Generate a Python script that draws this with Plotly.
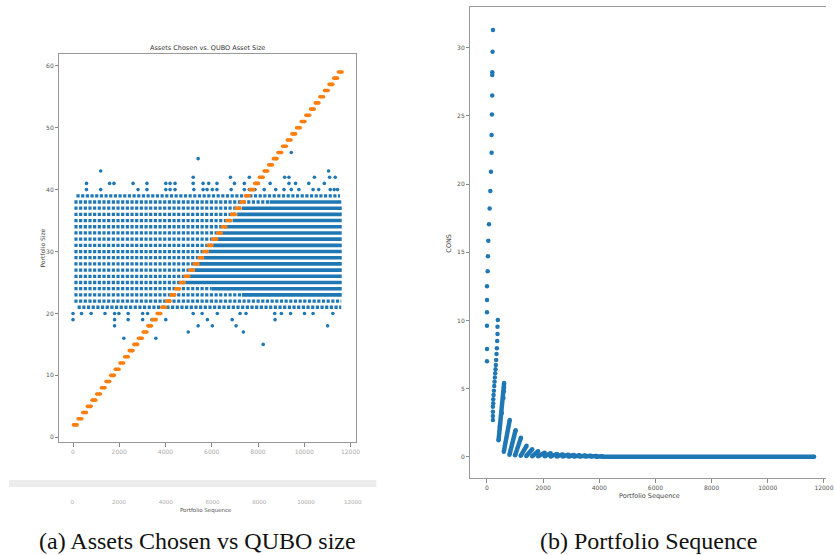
import plotly.graph_objects as go

W, H = 834, 555
BLUE = '#1f77b4'
ORANGE = '#ff7f0e'

def fx(p):
    return p / W

def fy(p):
    return 1 - p / H

# ---------------- (a) Assets Chosen vs. QUBO Asset Size ----------------
x_ticks_a = [0, 2000, 4000, 6000, 8000, 10000, 12000]
y_ticks_a = [0, 10, 20, 30, 40, 50, 60]

qubo_size = [2, 3, 4, 5, 6, 7, 8, 9, 10, 11, 12, 13, 14, 15, 16, 17, 18, 19, 20,
             21, 22, 23, 24, 25, 26, 27, 28, 29, 30, 31, 32, 33, 34, 35, 36, 37,
             38, 39, 40, 41, 42, 43, 44, 45, 46, 47, 48, 49, 50, 51, 52, 53, 54,
             55, 56, 57, 58, 59]
qubo_x_start = [20, 221, 422, 623, 824, 1025, 1226, 1427, 1628, 1829, 2030, 2231,
                2432, 2633, 2834, 3035, 3236, 3437, 3638, 3839, 4040, 4241, 4442,
                4643, 4844, 5045, 5246, 5447, 5648, 5849, 6050, 6251, 6452, 6653,
                6854, 7055, 7256, 7457, 7658, 7859, 8060, 8261, 8462, 8663, 8864,
                9065, 9266, 9467, 9668, 9869, 10070, 10271, 10472, 10673, 10874,
                11075, 11276, 11477]
qubo_x_end = [180, 381, 582, 783, 984, 1185, 1386, 1587, 1788, 1989, 2190, 2391,
              2592, 2793, 2994, 3195, 3396, 3597, 3798, 3999, 4200, 4401, 4602,
              4803, 5004, 5205, 5406, 5607, 5808, 6009, 6210, 6411, 6612, 6813,
              7014, 7215, 7416, 7617, 7818, 8019, 8220, 8421, 8622, 8823, 9024,
              9225, 9426, 9627, 9828, 10029, 10230, 10431, 10632, 10833, 11034,
              11235, 11436, 11637]

# rows of portfolio sizes that are present in (almost) every QUBO group
row_size = [21, 22, 23, 24, 25, 26, 27, 28, 29, 30, 31, 32, 33, 34, 35, 36, 37, 38, 39]
row_first_x = [200, 60, 60, 60, 60, 60, 60, 60, 60, 60, 60, 60, 60, 60, 60, 60, 60, 60, 150]
row_dense_from_x = [11600, 11600, 7300, 6000, 4850, 5050, 5250, 5450, 5650, 5850,
                    6050, 6250, 6450, 6650, 6900, 7100, 7300, 8500, 11550]
row_last_x = [11600, 11600, 11620, 11620, 11620, 11620, 11620, 11620, 11620, 11620,
              11620, 11620, 11620, 11620, 11620, 11620, 11620, 11600, 11550]

# isolated portfolio sizes
size15_x = [8224]
size16_x = [2198, 3583]
size17_x = [4983, 7367]
size18_x = [1798, 5411, 6025, 7053, 11009]
size19_x = [0, 1798, 2384, 3012, 3412, 4012, 5811, 6882, 8738]
size20_x = [0, 370, 784, 1384, 1798, 1984, 2384, 3012, 3226, 5197, 5582, 6239,
            7225, 7482, 8724, 9010, 9409, 10010, 10381, 11237]
size40_x = [584, 1198, 2812, 3198, 4012, 4197, 4412, 5226, 5625, 5797, 6025, 6225,
            6839, 7410, 7624, 7867, 8267, 8767, 9124, 9438, 9767, 10381, 10623,
            11123, 11295, 11438]
size41_x = [584, 1584, 1770, 2598, 3198, 4012, 4197, 4412, 5197, 5625, 5868, 6225,
            6982, 7410, 8524, 9338, 9624, 10195, 10866]
size42_x = [5197, 6810, 7624, 9152, 9338, 10438, 11095, 11338]
size43_x = [1198, 11052]
size45_x = [5411]
size46_x = [9438]

# ---------------- (b) Portfolio Sequence ----------------
x_ticks_b = [0, 2000, 4000, 6000, 8000, 10000, 12000]
y_ticks_b = [0, 5, 10, 15, 20, 25, 30]

group1_x = [0, 0, 0, 0, 0, 0, 24, 35, 47, 71, 94, 118, 141, 165, 165, 176, 187, 187, 190, 198, 212]
group1_cons = [7.0, 7.9, 9.6, 10.6, 11.5, 12.5, 13.6, 14.7, 15.85, 17.05, 18.2, 19.5,
               20.9, 22.3, 23.6, 25.1, 26.5, 28.0, 28.2, 29.7, 31.3]
group2_x = [211, 211, 211, 211, 222, 222, 234, 246, 258, 269, 281, 293, 305, 316,
            328, 340, 352, 363, 375, 375, 386]
group2_cons = [2.69, 2.99, 3.3, 3.67, 3.92, 4.21, 4.53, 4.84, 5.19, 5.5, 5.82, 6.12,
               6.41, 6.73, 7.09, 7.53, 7.95, 8.49, 9.0, 9.54, 10.03]
group3_x = [411, 459, 529, 587, 600, 605, 610]
group3_cons = [1.2, 2.2, 3.2, 4.3, 4.8, 5.1, 5.4]

arc_x0 = [600, 800, 1000, 1200, 1400, 1610, 1820, 2057, 2268, 2491, 2700, 2900,
          3100, 3300, 3500, 3700, 3900]
arc_x1 = [810, 1020, 1210, 1410, 1610, 1820, 2057, 2268, 2491, 2700, 2900, 3100,
          3300, 3500, 3700, 3900, 4100]
arc_cons0 = [0.37, 0.15, 0.10, 0.07, 0.05, 0.04, 0.03, 0.03, 0.02, 0.02, 0.02, 0.02,
             0.01, 0.01, 0.01, 0.01, 0.0]
arc_cons1 = [2.7, 1.95, 1.4, 0.8, 0.55, 0.4, 0.3, 0.25, 0.2, 0.17, 0.15, 0.13,
             0.11, 0.09, 0.07, 0.05, 0.04]
tail_x = [4100, 11650]
tail_cons = [0.0, 0.0]

fig = go.Figure()

# --- panel (a): dense rows ---
for lvl, x0, xd, x1 in zip(row_size, row_first_x, row_dense_from_x, row_last_x):
    xe = min(xd, x1)
    fig.add_trace(go.Scatter(x=[x0, xe], y=[lvl, lvl], mode='lines',
                             line=dict(color=BLUE, width=3.3, dash='3.2px,1.47px'),
                             xaxis='x', yaxis='y', hoverinfo='skip'))
solid_x, solid_y = [], []
for lvl, xd, x1 in zip(row_size, row_dense_from_x, row_last_x):
    if xd < x1:
        solid_x += [xd, x1, None]
        solid_y += [lvl, lvl, None]
fig.add_trace(go.Scatter(x=solid_x, y=solid_y, mode='lines',
                         line=dict(color=BLUE, width=3.6),
                         xaxis='x', yaxis='y', hoverinfo='skip'))

sx, sy = [], []
for lvl, xs in [(15, size15_x), (16, size16_x), (17, size17_x), (18, size18_x),
                (19, size19_x), (20, size20_x), (40, size40_x), (41, size41_x),
                (42, size42_x), (43, size43_x), (45, size45_x), (46, size46_x)]:
    sx += xs
    sy += [lvl] * len(xs)
fig.add_trace(go.Scatter(x=sx, y=sy, mode='markers',
                         marker=dict(color=BLUE, size=3.6, line=dict(width=0)),
                         xaxis='x', yaxis='y', hoverinfo='skip'))

# orange QUBO size staircase
ox, oy = [], []
for lvl, a, b in zip(qubo_size, qubo_x_start, qubo_x_end):
    ox += [a, b, None]
    oy += [lvl, lvl, None]
fig.add_trace(go.Scatter(x=ox, y=oy, mode='lines+markers',
                         line=dict(color=ORANGE, width=3.6),
                         marker=dict(color=ORANGE, size=3.6, line=dict(width=0)),
                         xaxis='x', yaxis='y', hoverinfo='skip'))

# dummy trace to carry the second (lower) tick row
fig.add_trace(go.Scatter(x=[None], y=[None], xaxis='x3', yaxis='y',
                         hoverinfo='skip', showlegend=False))

# --- panel (b) ---
fig.add_trace(go.Scatter(x=group1_x + group2_x, y=group1_cons + group2_cons,
                         mode='markers',
                         marker=dict(color=BLUE, size=4.5, line=dict(width=0)),
                         xaxis='x2', yaxis='y2', hoverinfo='skip'))
ax, ay = list(group3_x) + [None], list(group3_cons) + [None]
for a0, a1, c0, c1 in zip(arc_x0, arc_x1, arc_cons0, arc_cons1):
    ax += [a0, a1, None]
    ay += [c0, c1, None]
ax += tail_x
ay += tail_cons
fig.add_trace(go.Scatter(x=ax, y=ay, mode='lines+markers',
                         line=dict(color=BLUE, width=4.5),
                         marker=dict(color=BLUE, size=4.5, line=dict(width=0)),
                         xaxis='x2', yaxis='y2', hoverinfo='skip'))

axis_common = dict(showgrid=False, zeroline=False, ticks='outside', ticklen=3.5,
                   tickwidth=0.8, tickcolor='#888', showline=True, linecolor='#999',
                   linewidth=1, tickformat='d', ticklabeloverflow='allow',
                   tickfont=dict(family='DejaVu Sans', size=6, color='#555'))

fig.update_layout(
    width=W, height=H, autosize=False,
    margin=dict(l=0, r=0, t=0, b=0),
    paper_bgcolor='white', plot_bgcolor='rgba(0,0,0,0)',
    showlegend=False,
    xaxis=dict(domain=[fx(60), fx(359)], range=[-587, 12218], tickvals=x_ticks_a,
               anchor='y', mirror=True,
               **{**axis_common, 'tickfont': dict(family='DejaVu Sans', size=6, color='#aaa')}),
    yaxis=dict(domain=[fy(442), fy(54)], range=[-0.76, 61.9], tickvals=y_ticks_a,
               anchor='x', mirror=True, **axis_common),
    xaxis3=dict(domain=[fx(59.2), fx(361.2)], range=[-587, 12218], tickvals=x_ticks_a,
                anchor='free', position=fy(497), showline=False, ticks='',
                showgrid=False, zeroline=False, tickformat='d',
                tickfont=dict(family='DejaVu Sans', size=5.5, color='#aaa')),
    xaxis2=dict(domain=[fx(475), 1.0], range=[-589, 12074], tickvals=x_ticks_b,
                anchor='y2', mirror=True, **axis_common),
    yaxis2=dict(domain=[fy(478), fy(7)], range=[-1.56, 32.99], tickvals=y_ticks_b,
                anchor='x2', mirror=False, **axis_common),
    shapes=[dict(type='rect', xref='paper', yref='paper', x0=fx(9), x1=fx(380),
                 y0=fy(487), y1=fy(480), fillcolor='#ececec', line=dict(width=0),
                 layer='below')],
)

ann = [
    dict(text='Assets Chosen vs. QUBO Asset Size', x=fx(209.5), y=fy(48), size=6.5, color='#333', angle=0),
    dict(text='Portfolio Size', x=fx(42), y=fy(248), size=6, color='#444', angle=-90),
    dict(text='Portfolio Sequence', x=fx(208), y=fy(510), size=5.5, color='#555', angle=0),
    dict(text='CONS', x=fx(453), y=fy(243), size=6.5, color='#444', angle=-90),
    dict(text='Portfolio Sequence', x=fx(656), y=fy(496), size=6.5, color='#444', angle=0),
]
for a in ann:
    fig.add_annotation(text=a['text'], x=a['x'], y=a['y'], xref='paper', yref='paper',
                       showarrow=False, textangle=a['angle'], xanchor='center', yanchor='middle',
                       font=dict(family='DejaVu Sans', size=a['size'], color=a['color']))

for text, cx in [('(a) Assets Chosen vs QUBO size', 199.5), ('(b) Portfolio Sequence', 654.5)]:
    fig.add_annotation(text=text, x=fx(cx), y=fy(541), xref='paper', yref='paper',
                       showarrow=False, xanchor='center', yanchor='middle',
                       font=dict(family='Liberation Serif', size=24, color='#111'))

fig.write_html('out.html', config={'displayModeBar': False},
               post_script="document.body.style.margin='0';document.body.style.overflow='hidden';")
